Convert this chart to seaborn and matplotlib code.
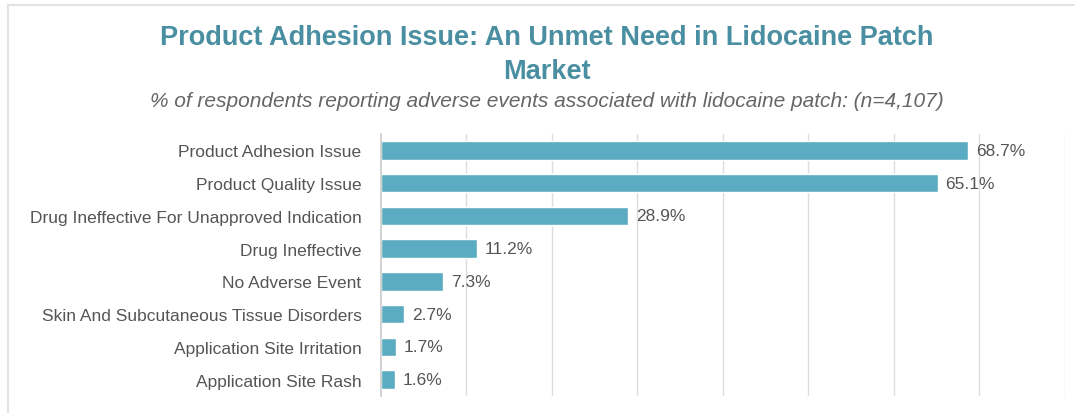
import pandas as pd
import matplotlib.pyplot as plt
import seaborn as sns
from matplotlib.patches import Rectangle

# ─────────────────────────────────────────────
# Data
# ─────────────────────────────────────────────
events = [
    "Product Adhesion Issue",
    "Product Quality Issue",
    "Drug Ineffective For Unapproved Indication",
    "Drug Ineffective",
    "No Adverse Event",
    "Skin And Subcutaneous Tissue Disorders",
    "Application Site Irritation",
    "Application Site Rash",
]
pct = [68.7, 65.1, 28.9, 11.2, 7.3, 2.7, 1.7, 1.6]
grid_ticks = [10, 20, 30, 40, 50, 60, 70, 80]

df = pd.DataFrame({"event": events, "pct": pct})

BAR = "#5BACC3"
TITLE = "#4A8FA1"
TEXT = "#555555"

sns.set_theme(style="white")
plt.rcParams["font.family"] = ["Liberation Sans", "DejaVu Sans"]

fig = plt.figure(figsize=(10.75, 4.14), dpi=100)
ax = fig.add_axes([0.3544, 0.041, 0.6363, 0.633])

sns.barplot(data=df, x="pct", y="event", orient="h", color=BAR,
            saturation=1, width=0.57, ax=ax)

ax.set_xlim(0, 80)
ax.set_ylim(7.5, -0.5)
ax.set_xticks(grid_ticks)
ax.set_xticklabels([])
ax.tick_params(axis="x", length=0)
ax.tick_params(axis="y", length=0, pad=14, labelsize=12.5, labelcolor=TEXT)
ax.xaxis.grid(True, color="#dddddd", linewidth=1)
ax.set_axisbelow(True)
ax.set_xlabel("")
ax.set_ylabel("")
for s in ["top", "right", "bottom"]:
    ax.spines[s].set_visible(False)
ax.spines["left"].set_color("#cccccc")

for i, v in enumerate(pct):
    ax.text(v + 0.9, i, f"{v}%", va="center", ha="left",
            fontsize=12.5, color=TEXT)

# titles
fig.text(0.509, 0.908, "Product Adhesion Issue: An Unmet Need in Lidocaine Patch",
         ha="center", va="center", fontsize=19.5, fontweight="bold", color=TITLE)
fig.text(0.509, 0.826, "Market", ha="center", va="center",
         fontsize=19.5, fontweight="bold", color=TITLE)
fig.text(0.509, 0.756,
         "% of respondents reporting adverse events associated with lidocaine patch: (n=4,107)",
         ha="center", va="center", fontsize=15, style="italic", color="#666666")

# light frame around the slide
fig.patches.append(Rectangle((0.0075, -0.05), 1.1, 1.035, transform=fig.transFigure,
                             fill=False, edgecolor="#e3e3e3", linewidth=1.5))

fig.savefig("out.png", dpi=100)
plt.close()
